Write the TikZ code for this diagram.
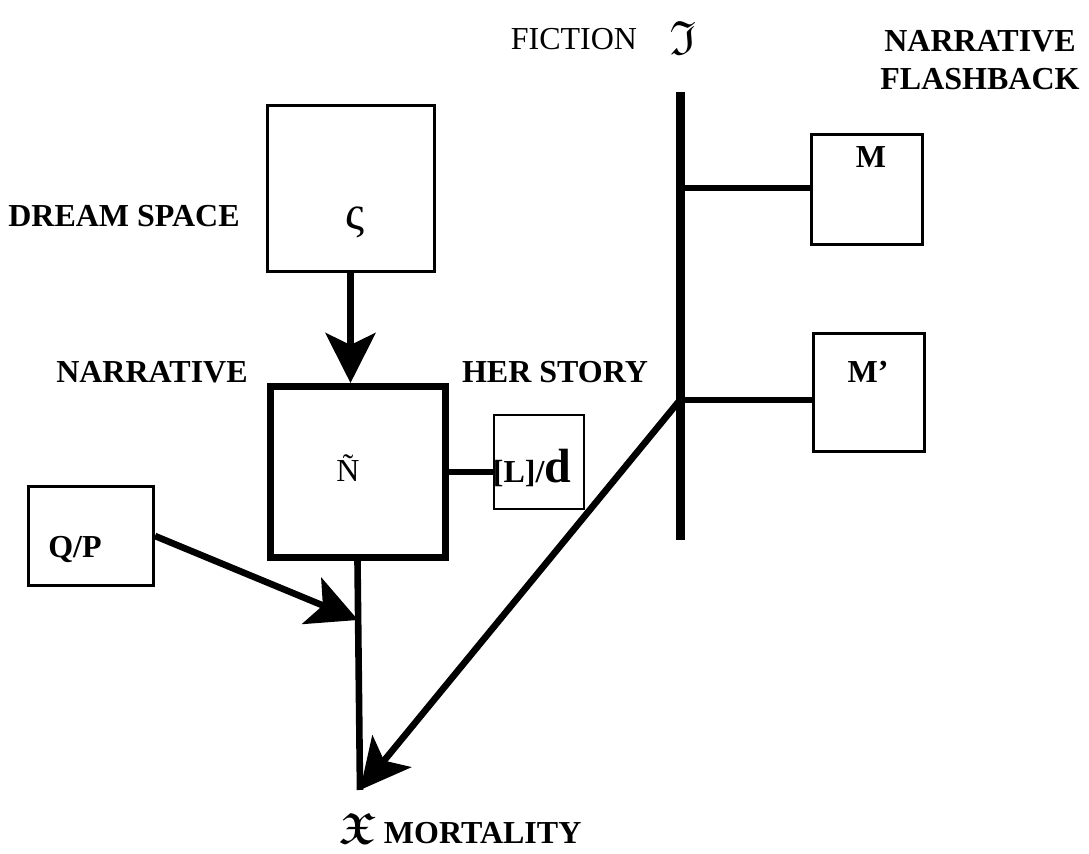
\documentclass[tikz,border=0pt]{standalone}
\usepackage{amssymb}
\usepackage{fontspec}
\setmainfont{Liberation Serif}
\usetikzlibrary{arrows.meta}

\newcommand{\figsize}{\fontsize{16}{19}\selectfont}
\tikzset{
  txt/.style={font=\figsize},
  lbl/.style={font=\figsize\bfseries},
  thinbox/.style={draw, line width=1.5pt, inner sep=0pt},
  thickbox/.style={draw, line width=3.5pt, inner sep=0pt},
  heavy/.style={line width=3.3pt},
  bigtip/.style={-{Stealth[length=25pt,width=25pt,inset=6pt]}}
}

\begin{document}
\begin{tikzpicture}[x=0.5pt,y=-0.5pt]
\useasboundingbox (0,0) rectangle (1089,854);

\node[txt] (fiction) at (574,39) {FICTION};
\node[font=\fontsize{24}{24}\selectfont] (frakI) at (683,38) {$\mathfrak{I}$};
\node[lbl, align=center] (flash) at (980,60) {NARRATIVE\\FLASHBACK};

\node[lbl] (dreamlbl) at (124,216) {DREAM SPACE};
\node[lbl] (narrlbl) at (152,372) {NARRATIVE};
\node[lbl] (herlbl) at (555,372) {HER STORY};

\node[thinbox, minimum width=83.5pt, minimum height=83pt] (dream) at (350.5,189) {};
\node[font=\fontsize{24}{24}\selectfont] (sigma) at (355,222) {ς};

\node[thickbox, minimum width=87.5pt, minimum height=85.5pt] (narr) at (357.5,472) {};
\node[txt] (ntilde) at (348,468) {Ñ};

\node[thinbox, line width=1pt, minimum width=45pt, minimum height=47pt] (lbox) at (539,462) {};
\node[lbl] (ltext) at (532,468) {[L]/{\fontsize{24}{24}\selectfont d}};

\node[thinbox, minimum width=62.5pt, minimum height=49.5pt] (qp) at (91,536) {};
\node[lbl] (qptext) at (75,550) {Q/P};

\node[thinbox, minimum width=55.5pt, minimum height=55pt] (mbox) at (867,189.5) {};
\node[lbl] (mtext) at (871,157) {M};
\node[thinbox, minimum width=55.5pt, minimum height=59pt] (mpbox) at (869,392.5) {};
\node[lbl] (mptext) at (868,372) {M’};

\node[lbl] (mort) at (460,828) {{\fontsize{22}{22}\selectfont\boldmath$\mathfrak{X}$} MORTALITY};

\coordinate (bartop) at (680,92);
\coordinate (barbot) at (680,540);
\coordinate (barM) at (680,188);
\coordinate (barMp) at (680,400);
\coordinate (join) at (358,620);
\coordinate (sink) at (360,790);

\draw[line width=4.5pt] (bartop) -- (barbot);
\draw[heavy] (barM) -- (barM -| mbox.west);
\draw[heavy] (barMp) -- (barMp -| mpbox.west);

\draw[heavy, bigtip] (dream.south) -- (dream.south |- narr.north);
\draw[heavy] (narr.east) -- (narr.east -| lbox.west);
\draw[heavy] (narr.south) -- (sink);
\draw[heavy, bigtip] (qp.east) -- (join);
\draw[heavy, bigtip] (barMp) -- (sink);
\end{tikzpicture}
\end{document}
